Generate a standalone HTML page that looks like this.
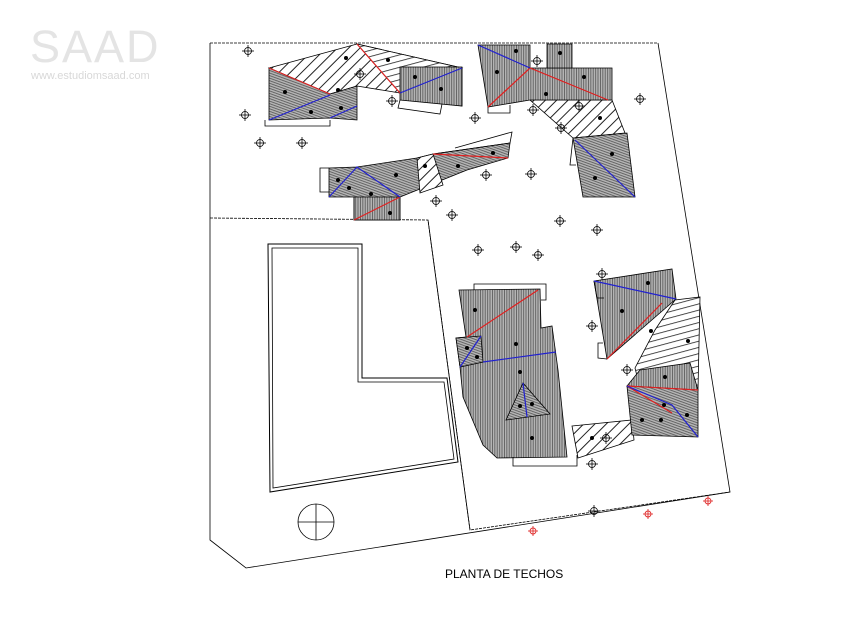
<!DOCTYPE html>
<html><head><meta charset="utf-8"><style>
html,body{margin:0;padding:0;background:#fff;width:850px;height:624px;overflow:hidden}
</style></head><body>
<svg width="850" height="624" viewBox="0 0 850 624" xmlns="http://www.w3.org/2000/svg">
<defs>
<pattern id="g" width="2.4" height="2.4" patternUnits="userSpaceOnUse" patternTransform="rotate(20)">
<rect width="2.4" height="2.4" fill="#b4b4b4"/><rect width="2.4" height="0.8" fill="#555"/></pattern>
<pattern id="gv" width="2.4" height="2.4" patternUnits="userSpaceOnUse">
<rect width="2.4" height="2.4" fill="#b4b4b4"/><rect width="0.8" height="2.4" fill="#555"/></pattern>
<pattern id="d" width="8" height="8" patternUnits="userSpaceOnUse" patternTransform="rotate(45)">
<rect width="8" height="8" fill="#fff"/><rect width="1" height="8" fill="#222"/></pattern>
<pattern id="h" width="6" height="6" patternUnits="userSpaceOnUse" patternTransform="rotate(-15)">
<rect width="6" height="6" fill="#fff"/><rect width="6" height="0.8" fill="#222"/></pattern>
<g id="m"><circle r="3.5" fill="none" stroke="#000" stroke-width="0.8"/><line x1="-6" y1="0" x2="6" y2="0" stroke="#000" stroke-width="0.8"/><line x1="0" y1="-6" x2="0" y2="6" stroke="#000" stroke-width="0.8"/></g>
<g id="r"><circle r="3" fill="none" stroke="#e03030" stroke-width="0.9"/><line x1="-5" y1="0" x2="5" y2="0" stroke="#e03030" stroke-width="0.9"/><line x1="0" y1="-5" x2="0" y2="5" stroke="#e03030" stroke-width="0.9"/></g>
</defs>
<text x="30" y="62" font-family="Liberation Sans, sans-serif" font-size="45" fill="#e4e4e4" letter-spacing="2">SAAD</text>
<text x="31" y="79" font-family="Liberation Sans, sans-serif" font-size="11" fill="#d8d8d8">www.estudiomsaad.com</text>

<g fill="none" stroke="#000" stroke-width="0.8">
<polyline points="210,43 658,43" stroke-dasharray="3,1"/>
<polyline points="658,43 730,492 246,568 210,540 210,43"/>
<polyline points="210,218 428,220 470,530 730,492" stroke-dasharray="3,1"/>
<polyline points="428,220 470,530"/>
<polygon points="268,244 362,244 362,378 447,378 458,462 270,492" stroke-width="1"/>
<polygon points="272,248 358,248 358,382 444,382 454,459 273,488" stroke-width="0.8"/>
<circle cx="316" cy="522" r="18"/><line x1="298" y1="522" x2="334" y2="522"/><line x1="316" y1="504" x2="316" y2="540"/>
</g>

<g stroke="#000" stroke-width="0.8">
<polygon points="269,68 357,44 462,68 462,106 400,93 357,86 330,94" fill="url(#d)"/>
<polygon points="357,44 462,68 400,93" fill="url(#h)"/>
<polygon points="269,68 330,94 357,86 357,120 330,118 269,120" fill="url(#g)"/>
<polygon points="400,67 462,67 462,106 400,100" fill="url(#gv)"/>
<polyline points="265,120 265,126 330,126 330,120" fill="none"/>
<polyline points="400,100 398,108 440,114 442,104" fill="none"/>
<polygon points="530,100 612,100 625,133 573,138" fill="url(#d)"/>
<polygon points="478,45 530,45 530,68 612,68 612,100 530,100 488,107" fill="url(#gv)"/>
<polygon points="547,44 572,44 572,68 547,68" fill="url(#gv)"/>
<polygon points="573,138 627,133 635,197 583,197" fill="url(#g)"/>
<polyline points="488,107 488,113 510,113 510,105" fill="none"/>
<polyline points="573,138 570,165 576,165" fill="none"/>
<polygon points="329,168 357,167 417,158 433,154 510,143 508,158 467,170 400,197 400,220 354,220 354,197 329,197" fill="url(#g)"/>
<polygon points="417,158 433,154 443,185 420,193" fill="url(#d)"/>
<polygon points="354,197 400,197 400,220 354,220" fill="url(#gv)"/>
<polyline points="329,168 320,168 320,192 329,192" fill="none"/>
<polyline points="433,154 510,143 512,132 455,148" fill="none"/>
<polygon points="459,290 540,289 541,328 552,326 558,370 567,457 497,458 483,445 463,397 460,367 456,338 466,337" fill="url(#gv)"/>
<polygon points="456,338 481,336 483,362 460,367" fill="url(#g)"/>
<polygon points="523,383 550,414 506,420" fill="url(#g)"/>
<polyline points="474,290 474,284 546,284 546,300 541,300" fill="none"/>
<polyline points="513,457 513,466 577,466 577,455" fill="none"/>
<polygon points="572,426 632,420 634,440 578,458" fill="url(#d)" />
<polygon points="675,300 700,297 698,390 640,388 635,368 655,330" fill="url(#h)"/>
<polygon points="594,281 672,269 676,299 607,359" fill="url(#gv)"/>
<polygon points="640,370 690,363 698,390 627,386" fill="url(#gv)"/>
<polygon points="627,386 698,390 698,437 632,435" fill="url(#g)"/>
<polyline points="594,281 597,298 604,298" fill="none"/>
<polyline points="607,359 598,358 598,343 603,343" fill="none"/>
</g>

<g stroke-width="1.2" fill="none">
<g stroke="#e02020">
<line x1="269" y1="68" x2="330" y2="94"/><line x1="357" y1="44" x2="400" y2="93"/>
<polyline points="488,107 530,68 608,100"/>
<line x1="354" y1="220" x2="400" y2="197"/><line x1="433" y1="154" x2="508" y2="158"/>
<line x1="467" y1="337" x2="538" y2="290"/>
<line x1="607" y1="359" x2="662" y2="303"/>
<line x1="627" y1="386" x2="698" y2="390"/><line x1="627" y1="386" x2="672" y2="413"/>
</g>
<g stroke="#2020d0">
<line x1="269" y1="120" x2="330" y2="95"/><line x1="400" y1="93" x2="462" y2="68"/><line x1="330" y1="118" x2="357" y2="106"/>
<line x1="478" y1="45" x2="530" y2="68"/><line x1="575" y1="140" x2="635" y2="197"/>
<polyline points="329,197 357,167 400,197"/>
<line x1="460" y1="367" x2="481" y2="336"/><line x1="483" y1="362" x2="556" y2="352"/>
<line x1="523" y1="383" x2="527" y2="417"/>
<line x1="594" y1="281" x2="676" y2="299"/>
<polyline points="627,386 672,405 698,437"/>
</g>
</g>

<g fill="#000">
<circle cx="285" cy="92" r="2"/><circle cx="338" cy="90" r="2"/><circle cx="311" cy="112" r="2"/><circle cx="341" cy="108" r="2"/>
<circle cx="415" cy="77" r="2"/><circle cx="441" cy="89" r="2"/><circle cx="346" cy="58" r="2"/><circle cx="388" cy="60" r="2"/>
<circle cx="497" cy="72" r="2"/><circle cx="516" cy="51" r="2"/><circle cx="546" cy="94" r="2"/><circle cx="584" cy="77" r="2"/><circle cx="560" cy="53" r="2"/>
<circle cx="600" cy="118" r="2"/><circle cx="612" cy="154" r="2"/><circle cx="595" cy="178" r="2"/>
<circle cx="338" cy="180" r="2"/><circle cx="349" cy="188" r="2"/><circle cx="371" cy="194" r="2"/><circle cx="396" cy="175" r="2"/>
<circle cx="425" cy="166" r="2"/><circle cx="458" cy="166" r="2"/><circle cx="493" cy="153" r="2"/><circle cx="390" cy="213" r="2"/>
<circle cx="475" cy="289" r="0"/><circle cx="475" cy="310" r="2"/><circle cx="516" cy="344" r="2"/><circle cx="520" cy="372" r="2"/>
<circle cx="467" cy="348" r="2"/><circle cx="477" cy="357" r="2"/><circle cx="520" cy="406" r="2"/><circle cx="532" cy="404" r="2"/><circle cx="532" cy="438" r="2"/>
<circle cx="648" cy="283" r="2"/><circle cx="622" cy="311" r="2"/><circle cx="651" cy="331" r="2"/><circle cx="665" cy="377" r="2"/>
<circle cx="688" cy="341" r="2"/><circle cx="664" cy="405" r="2"/><circle cx="661" cy="420" r="2"/><circle cx="642" cy="420" r="2"/><circle cx="687" cy="415" r="2"/>
<circle cx="592" cy="438" r="2"/>
</g>

<use href="#m" x="248" y="51"/><use href="#m" x="245" y="115"/><use href="#m" x="260" y="143"/><use href="#m" x="302" y="143"/>
<use href="#m" x="360" y="74"/><use href="#m" x="392" y="101"/><use href="#m" x="475" y="118"/>
<use href="#m" x="537" y="61"/><use href="#m" x="640" y="99"/><use href="#m" x="533" y="110"/><use href="#m" x="579" y="106"/>
<use href="#m" x="561" y="128"/><use href="#m" x="486" y="175"/><use href="#m" x="531" y="174"/><use href="#m" x="436" y="201"/>
<use href="#m" x="452" y="215"/><use href="#m" x="560" y="221"/><use href="#m" x="597" y="230"/><use href="#m" x="478" y="250"/>
<use href="#m" x="516" y="247"/><use href="#m" x="538" y="255"/><use href="#m" x="602" y="274"/><use href="#m" x="592" y="326"/>
<use href="#m" x="627" y="370"/><use href="#m" x="606" y="438"/><use href="#m" x="592" y="464"/><use href="#m" x="594" y="511"/>
<use href="#r" x="533" y="531"/><use href="#r" x="648" y="514"/><use href="#r" x="708" y="501"/>

<text x="445" y="578" font-family="Liberation Sans, sans-serif" font-size="12" fill="#000">PLANTA DE TECHOS</text>
</svg>
</body></html>
